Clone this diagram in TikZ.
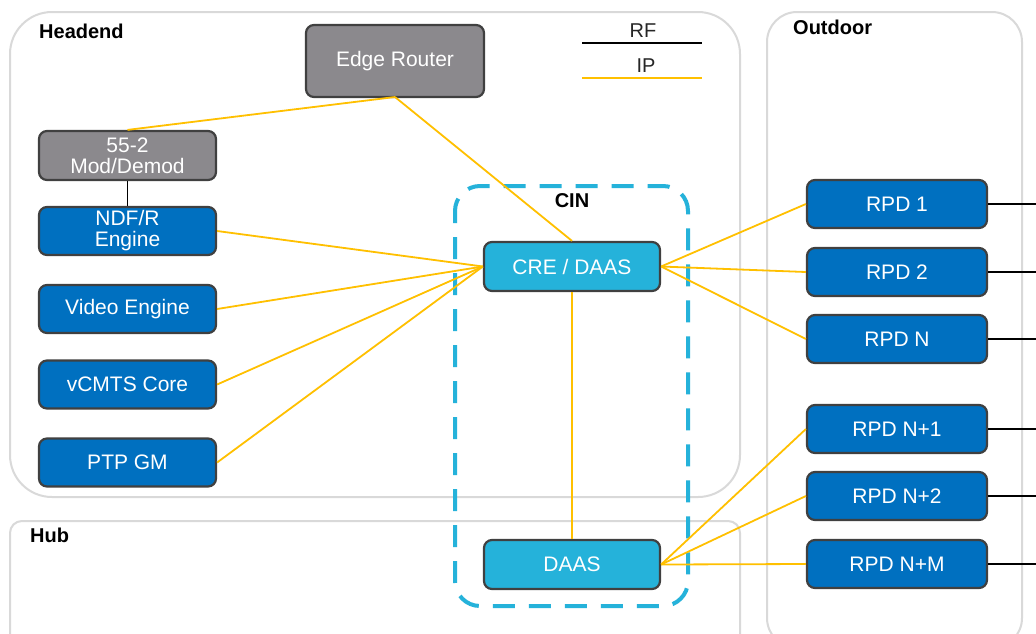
\documentclass[tikz,border=0pt]{standalone}
\usepackage{fontspec}
\setmainfont{Liberation Sans}
\definecolor{nodeblue}{HTML}{0070C0}
\definecolor{cinblue}{HTML}{25B2DA}
\definecolor{boxgray}{HTML}{8B898D}
\definecolor{edgegray}{HTML}{404040}
\definecolor{ipyellow}{HTML}{FFC000}
\definecolor{zonegray}{HTML}{D9D9D9}
\definecolor{legendtext}{HTML}{262626}
\tikzset{
  box/.style={draw=edgegray, line width=2.2pt, rounded corners=8pt, text=white,
    minimum width=177pt, minimum height=48pt, inner sep=1pt, align=center,
    font=\fontsize{21}{21}\selectfont},
  bluebox/.style={box, fill=nodeblue},
  graybox/.style={box, fill=boxgray},
  cinbox/.style={box, fill=cinblue},
  rpdbox/.style={bluebox, minimum width=180pt},
  zone/.style={draw=zonegray, line width=2pt},
  zonelabel/.style={font=\fontsize{20}{20}\selectfont\bfseries, anchor=west, inner sep=0pt},
  legendlabel/.style={font=\fontsize{20}{20}\selectfont, text=legendtext},
  ipline/.style={draw=ipyellow, line width=1.8pt},
  rfline/.style={draw=black, line width=1.8pt},
}
\begin{document}
\begin{tikzpicture}[x=1pt, y=-1pt]
\useasboundingbox (0,0) rectangle (1036,633);
\fill[white] (0,0) rectangle (1036,633);

% zones
\draw[zone, rounded corners=42pt] (10,12) rectangle (740,497);
\begin{scope}
  \clip (0,0) rectangle (1036,633);
  \draw[zone, rounded corners=12pt] (10,521) rectangle (740,660);
  \draw[zone, rounded corners=30pt] (767,12) rectangle (1022,648);
\end{scope}
\node[zonelabel] (headendlbl) at (39,31) {Headend};
\node[zonelabel] (hublbl) at (30,535) {Hub};
\node[zonelabel] (outdoorlbl) at (793,27) {Outdoor};

% converged interconnect network
\draw[cinblue, line width=4pt, rounded corners=25pt, dash pattern=on 22pt off 14pt, dash phase=10pt]
  (455,186) rectangle (688,606);
\node[font=\fontsize{20}{20}\selectfont\bfseries] (cinlbl) at (572,201) {CIN};

% legend
\node[legendlabel] (rflbl) at (643,31) {RF};
\coordinate (rfa) at (582,43);
\coordinate (rfb) at (702,43);
\draw[rfline] (rfa) -- (rfb);
\node[legendlabel] (iplbl) at (646,66) {IP};
\coordinate (ipa) at (582,78);
\coordinate (ipb) at (702,78);
\draw[ipline] (ipa) -- (ipb);

% headend equipment
\node[graybox, minimum width=178pt, minimum height=72pt] (router) at (395,61) {Edge Router};
\node[graybox, minimum height=49pt] (mod) at (127.5,155.5) {55-2\\Mod/Demod};
\node[bluebox] (ndf) at (127.5,231) {NDF/R\\Engine};
\node[bluebox] (video) at (127.5,309) {Video Engine};
\node[bluebox] (vcmts) at (127.5,384.5) {vCMTS Core};
\node[bluebox] (ptp) at (127.5,462.5) {PTP GM};

% CIN devices
\node[cinbox, minimum width=176pt, minimum height=49pt] (cre) at (572,266.5) {CRE / DAAS};
\node[cinbox, minimum width=176pt, minimum height=49pt] (daas) at (572,564.5) {DAAS};

% remote PHY devices
\node[rpdbox] (rpd1) at (897,204) {RPD 1};
\node[rpdbox] (rpd2) at (897,272) {RPD 2};
\node[rpdbox] (rpdn) at (897,339) {RPD N};
\node[rpdbox] (rpdn1) at (897,429) {RPD N+1};
\node[rpdbox] (rpdn2) at (897,496) {RPD N+2};
\node[rpdbox] (rpdnm) at (897,564) {RPD N+M};

% RF links
\draw[rfline] (mod.south) -- (ndf.north);
\foreach \r in {rpd1,rpd2,rpdn,rpdn1,rpdn2,rpdnm}{
  \coordinate (\r out) at (1036,0 |- \r.east);
  \draw[rfline] (\r.east) -- (\r out);
}

% IP links
\coordinate (rtr) at (395,97);
\draw[ipline] (rtr) -- (mod.north);
\draw[ipline] (rtr) -- (cre.north);
\foreach \s in {ndf,video,vcmts,ptp}{
  \draw[ipline] (\s.east) -- (cre.west);
}
\foreach \d in {rpd1,rpd2,rpdn}{
  \draw[ipline] (cre.east) -- (\d.west);
}
\draw[ipline] (cre.south) -- (daas.north);
\foreach \d in {rpdn1,rpdn2,rpdnm}{
  \draw[ipline] (daas.east) -- (\d.west);
}
\end{tikzpicture}
\end{document}
